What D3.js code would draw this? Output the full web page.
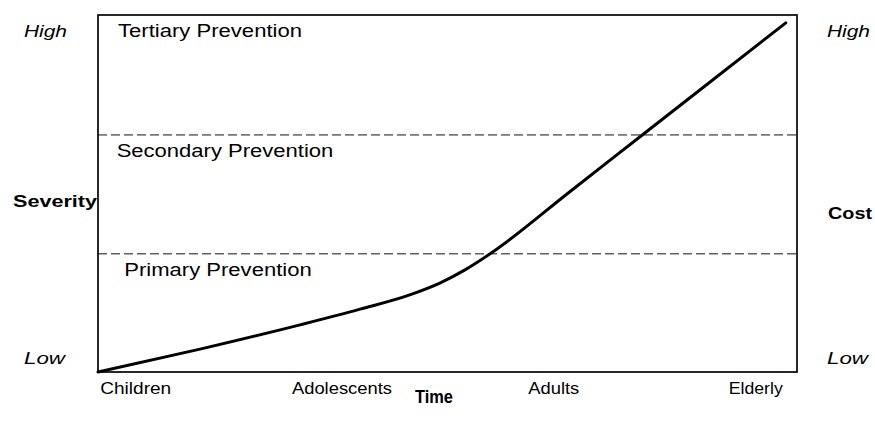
<!DOCTYPE html>
<html><head><meta charset="utf-8">
<script src="https://cdn.jsdelivr.net/npm/d3@7/dist/d3.min.js"></script>
<style>
html,body{margin:0;padding:0;background:#fff;}
svg{display:block;}
text{font-family:"Liberation Sans",Arial,sans-serif;fill:#000;}
</style></head>
<body>
<svg id="chart" width="875" height="431"></svg>
<script>
// ---- data ----
const categories = ["Children", "Adolescents", "Adults", "Elderly"];
const categoryPos = [5.4, 34.9, 65.2, 94.1];            // position along time axis (0-100)
const curveTime = [0, 14.6, 28.9, 37.5, 44.6, 48.9, 52.5, 56.1, 67.5, 78, 86.1, 98.4];
const curveSeverity = [0, 6.4, 13.2, 17.6, 21.6, 24.9, 28.6, 33.1, 50.5, 66.6, 79, 97.8];
const thresholds = [33.1, 66.4];
const zoneNames = ["Primary Prevention", "Secondary Prevention", "Tertiary Prevention"];
const levelLabels = ["Low", "High"];
const levelValues = [0, 100];
const leftTitle = "Severity", rightTitle = "Cost", bottomTitle = "Time";

// ---- layout ----
const L = 98, R = 797, T = 15, B = 372;
const svg = d3.select("#chart");
const x = d3.scaleLinear().domain([0, 100]).range([L, R]);
const y = d3.scaleLinear().domain([0, 100]).range([B, T]);

// dashed thresholds
svg.selectAll("line.th").data(thresholds).join("line")
  .attr("class", "th")
  .attr("x1", x(0)).attr("x2", x(100))
  .attr("y1", d => y(d)).attr("y2", d => y(d))
  .attr("stroke", "#111").attr("stroke-width", 1)
  .attr("stroke-dasharray", "9,4");

// frame
svg.append("rect").attr("x", L).attr("y", T).attr("width", R - L).attr("height", B - T)
  .attr("fill", "none").attr("stroke", "#111").attr("stroke-width", 1.8);

// curve
const pts = curveTime.map((t, i) => [t, curveSeverity[i]]);
svg.append("path").datum(pts)
  .attr("d", d3.line().x(d => x(d[0])).y(d => y(d[1])).curve(d3.curveMonotoneX))
  .attr("fill", "none").attr("stroke", "#000").attr("stroke-width", 3)
  .attr("stroke-linecap", "round");

// zone labels (layout: x start, baseline, width)
const zoneLayout = [
  {x: 124.3, y: 276, w: 187.4},
  {x: 116.7, y: 157, w: 216.6},
  {x: 118, y: 37, w: 184}
];
svg.selectAll("text.zone").data(zoneNames).join("text")
  .attr("class", "zone")
  .attr("x", (d, i) => zoneLayout[i].x).attr("y", (d, i) => zoneLayout[i].y)
  .attr("font-size", 17.5)
  .attr("textLength", (d, i) => zoneLayout[i].w).attr("lengthAdjust", "spacingAndGlyphs")
  .text(d => d);

// category labels
const catW = [71, 100, 51, 54];
svg.selectAll("text.cat").data(categories).join("text")
  .attr("class", "cat")
  .attr("x", (d, i) => x(categoryPos[i]) - catW[i] / 2)
  .attr("y", 393.5)
  .attr("font-size", 16)
  .attr("textLength", (d, i) => catW[i]).attr("lengthAdjust", "spacingAndGlyphs")
  .text(d => d);

// level labels left & right
const levelBase = [364, 37];
const levelW = [41, 43];
levelLabels.forEach((lab, i) => {
  [24, 827].forEach(xx => {
    svg.append("text")
      .attr("x", xx).attr("y", levelBase[i])
      .attr("font-size", 16).attr("font-style", "italic")
      .attr("textLength", levelW[i]).attr("lengthAdjust", "spacingAndGlyphs")
      .text(lab);
  });
});

// axis titles
svg.append("text").attr("x", 13).attr("y", 207)
  .attr("font-size", 17).attr("font-weight", "bold")
  .attr("textLength", 84).attr("lengthAdjust", "spacingAndGlyphs")
  .text(leftTitle);
svg.append("text").attr("x", 828).attr("y", 219)
  .attr("font-size", 17).attr("font-weight", "bold")
  .attr("textLength", 44).attr("lengthAdjust", "spacingAndGlyphs")
  .text(rightTitle);
svg.append("text").attr("x", 415).attr("y", 403)
  .attr("font-size", 18).attr("font-weight", "bold")
  .attr("textLength", 38).attr("lengthAdjust", "spacingAndGlyphs")
  .text(bottomTitle);
</script>
</body></html>
